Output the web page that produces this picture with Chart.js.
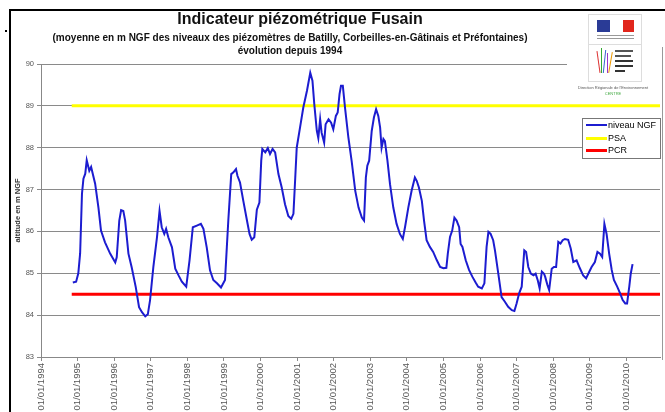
<!DOCTYPE html>
<html>
<head>
<meta charset="utf-8">
<script src="https://cdn.jsdelivr.net/npm/chart.js@4.4.1/dist/chart.umd.min.js"></script>
<style>
  body { margin: 0; background: #fff; font-family: "Liberation Sans", Arial, sans-serif; }
  #wrap { position: relative; width: 665px; height: 412px; overflow: hidden; }
  #wrap canvas { position: absolute; left: 0; top: 0; }
  .abs { position: absolute; }
  .frame-top { left: 9px; top: 9px; width: 656px; height: 2px; background: #000; }
  .frame-left { left: 9px; top: 9px; width: 2px; height: 403px; background: #000; }
  .title { left: 25px; width: 530px; text-align: center; font-weight: bold; color: #111; white-space: nowrap; }
  .legend { left: 582px; top: 118px; width: 77px; height: 39px; border: 1px solid #777; background: #fff; font-size: 9px; }
  .legend div { position: relative; height: 12.5px; line-height: 12.5px; padding-left: 25px; }
  .legend span { position: absolute; left: 3px; top: 5px; width: 21px; }
  .logo-cover { left: 567px; top: 12px; width: 95px; height: 88px; background: #fff; }
  .logo { left: 588px; top: 14px; width: 52px; height: 66px; border: 1px solid #ddd; background: #fff; }
</style>
</head>
<body>
<div id="wrap">
  <canvas id="chart"></canvas>
  <div class="abs frame-top"></div>
  <div class="abs frame-left"></div>
  <div class="abs" style="left:5px;top:30px;width:2px;height:2px;background:#000;"></div>
  <div class="abs title" style="top:10px;left:35px;font-size:16px;">Indicateur piézométrique Fusain</div>
  <div class="abs title" style="top:32px;font-size:10px;">(moyenne en m NGF des niveaux des piézomètres de Batilly, Corbeilles-en-Gâtinais et Préfontaines)</div>
  <div class="abs title" style="top:45px;font-size:10px;">évolution depuis 1994</div>
  <div class="abs logo-cover"></div>
  <div class="abs logo">
    <div class="abs" style="left:8px;top:5px;width:13px;height:12px;background:#2a3b96;"></div>
    <div class="abs" style="left:21px;top:5px;width:13px;height:12px;background:#fff;"></div>
    <div class="abs" style="left:34px;top:5px;width:11px;height:12px;background:#e1261c;"></div>
    <div class="abs" style="left:8px;top:20px;width:37px;height:1px;background:#999;"></div>
    <div class="abs" style="left:8px;top:23px;width:37px;height:1px;background:#999;"></div>
    <div class="abs" style="left:0;top:29px;width:52px;height:1px;background:#ddd;"></div>
    <div class="abs" style="left:9px;top:36px;width:1px;height:22px;background:#d33;transform:rotate(-8deg);"></div>
    <div class="abs" style="left:12px;top:33px;width:1px;height:25px;background:#3a3;"></div>
    <div class="abs" style="left:15px;top:35px;width:1px;height:23px;background:#36c;transform:rotate(6deg);"></div>
    <div class="abs" style="left:18px;top:38px;width:1px;height:20px;background:#93c;"></div>
    <div class="abs" style="left:21px;top:37px;width:1px;height:21px;background:#e90;transform:rotate(10deg);"></div>
    <div class="abs" style="left:26px;top:35px;width:18px;height:2px;background:#555;"></div>
    <div class="abs" style="left:26px;top:40px;width:16px;height:2px;background:#555;"></div>
    <div class="abs" style="left:26px;top:45px;width:18px;height:2px;background:#333;"></div>
    <div class="abs" style="left:26px;top:50px;width:18px;height:2px;background:#333;"></div>
    <div class="abs" style="left:26px;top:55px;width:10px;height:2px;background:#333;"></div>
  </div>
  <div class="abs" style="left:566px;top:85px;width:94px;text-align:center;font-size:4px;color:#555;">Direction Régionale de l'Environnement</div>
  <div class="abs" style="left:566px;top:91px;width:94px;text-align:center;font-size:4px;color:#4a4;">CENTRE</div>
  <div class="abs" style="left:662px;top:47px;width:1px;height:313px;background:#999;"></div>
  <div class="abs legend">
    <div><span style="height:2px;background:#1c1cd0;"></span>niveau NGF</div>
    <div><span style="height:3px;background:#ffff00;"></span>PSA</div>
    <div><span style="height:3px;background:#ff0000;"></span>PCR</div>
  </div>
</div>
<script>
// Niveau moyen (m NGF), en années décimales
const dates = [
  1994.87, 1994.96, 1995.02, 1995.07, 1995.12, 1995.16, 1995.21, 1995.25, 1995.32, 1995.37,
  1995.48, 1995.57, 1995.64, 1995.75, 1995.89, 1996.03, 1996.07, 1996.14, 1996.19, 1996.25,
  1996.30, 1996.39, 1996.48, 1996.59, 1996.68, 1996.76, 1996.85, 1996.92, 1996.98, 1997.07,
  1997.17, 1997.24, 1997.30, 1997.37, 1997.42, 1997.48, 1997.58, 1997.67, 1997.76, 1997.85,
  1997.97, 1998.06, 1998.15, 1998.26, 1998.37, 1998.44, 1998.53, 1998.62, 1998.71, 1998.81,
  1998.92, 1999.03, 1999.08, 1999.12, 1999.20, 1999.26, 1999.33, 1999.37, 1999.44, 1999.53,
  1999.63, 1999.70, 1999.76, 1999.83, 1999.90, 1999.97, 2000.02, 2000.05, 2000.13, 2000.20,
  2000.26, 2000.33, 2000.40, 2000.49, 2000.58, 2000.67, 2000.76, 2000.84, 2000.90, 2000.95,
  2000.99, 2001.08, 2001.17, 2001.27, 2001.36, 2001.42, 2001.47, 2001.54, 2001.58, 2001.63,
  2001.67, 2001.74, 2001.78, 2001.86, 2001.93, 2001.99, 2002.06, 2002.11, 2002.16, 2002.20,
  2002.25, 2002.31, 2002.40, 2002.49, 2002.59, 2002.68, 2002.77, 2002.83, 2002.88, 2002.92,
  2002.97, 2003.04, 2003.10, 2003.16, 2003.22, 2003.27, 2003.31, 2003.36, 2003.40, 2003.47,
  2003.54, 2003.63, 2003.72, 2003.81, 2003.89, 2003.95, 2004.04, 2004.13, 2004.22, 2004.27,
  2004.33, 2004.41, 2004.47, 2004.54, 2004.63, 2004.72, 2004.82, 2004.91, 2005.00, 2005.08,
  2005.12, 2005.18, 2005.24, 2005.30, 2005.36, 2005.43, 2005.47, 2005.52, 2005.61, 2005.70,
  2005.79, 2005.88, 2005.95, 2006.05, 2006.12, 2006.18, 2006.23, 2006.29, 2006.36, 2006.41,
  2006.50, 2006.59, 2006.68, 2006.77, 2006.87, 2006.94, 2007.00, 2007.07, 2007.14, 2007.21,
  2007.26, 2007.32, 2007.39, 2007.46, 2007.52, 2007.58, 2007.63, 2007.69, 2007.75, 2007.78,
  2007.84, 2007.89, 2007.96, 2008.02, 2008.08, 2008.14, 2008.20, 2008.26, 2008.32, 2008.41,
  2008.48, 2008.55, 2008.64, 2008.73, 2008.82, 2008.90, 2008.96, 2009.05, 2009.14, 2009.21,
  2009.28, 2009.34, 2009.40, 2009.46, 2009.53, 2009.60, 2009.66, 2009.75, 2009.83, 2009.90,
  2009.97, 2010.02, 2010.08, 2010.12, 2010.17,
];
const niveau = [
  84.78, 84.80, 85.00, 85.48, 86.90, 87.26, 87.38, 87.70, 87.45, 87.54,
  87.14, 86.57, 86.02, 85.74, 85.47, 85.26, 85.38, 86.26, 86.51, 86.49,
  86.26, 85.47, 85.14, 84.67, 84.19, 84.07, 83.97, 84.02, 84.35, 85.14,
  85.86, 86.49, 86.10, 85.94, 86.06, 85.86, 85.62, 85.11, 84.95, 84.80,
  84.68, 85.31, 86.10, 86.14, 86.18, 86.06, 85.62, 85.07, 84.84, 84.76,
  84.66, 84.84, 85.63, 86.26, 87.37, 87.41, 87.49, 87.33, 87.17, 86.73,
  86.26, 85.94, 85.80, 85.86, 86.52, 86.69, 87.69, 87.97, 87.89, 87.99,
  87.85, 87.97, 87.89, 87.37, 87.05, 86.65, 86.37, 86.30, 86.42, 87.29,
  88.00, 88.48, 88.96, 89.36, 89.79, 89.60, 89.04, 88.40, 88.23, 88.68,
  88.36, 88.12, 88.56, 88.68, 88.60, 88.44, 88.76, 88.84, 89.28, 89.48,
  89.48, 88.96, 88.26, 87.69, 86.97, 86.57, 86.33, 86.26, 87.29, 87.57,
  87.69, 88.40, 88.72, 88.92, 88.76, 88.48, 88.00, 88.21, 88.16, 87.69,
  87.13, 86.57, 86.18, 85.94, 85.82, 86.10, 86.57, 86.97, 87.29, 87.21,
  87.05, 86.73, 86.26, 85.79, 85.63, 85.51, 85.31, 85.15, 85.12, 85.13,
  85.47, 85.87, 86.02, 86.33, 86.26, 86.10, 85.70, 85.63, 85.31, 85.08,
  84.92, 84.78, 84.68, 84.64, 84.76, 85.63, 85.99, 85.94, 85.79, 85.54,
  84.99, 84.43, 84.32, 84.20, 84.12, 84.10, 84.28, 84.52, 84.68, 85.55,
  85.51, 85.15, 84.99, 84.95, 84.99, 84.83, 84.64, 85.04, 84.99, 84.92,
  84.73, 84.60, 85.11, 85.15, 85.15, 85.75, 85.71, 85.79, 85.82, 85.80,
  85.59, 85.27, 85.31, 85.12, 84.95, 84.88, 84.99, 85.15, 85.27, 85.51,
  85.47, 85.39, 86.18, 85.94, 85.47, 85.08, 84.84, 84.68, 84.52, 84.36,
  84.28, 84.28, 84.68, 84.99, 85.22,
];

// Seuils
const psa = 89;
const pcr = 84.5;
const seuilDates = [1994.84, 2010.92];

const xMin = 1994;
const xMax = 2010.92;
const yMin = 83;
const yMax = 90;

const ctx = document.getElementById('chart');
new Chart(ctx, {
  type: 'line',
  data: {
    datasets: [
      {
        label: 'niveau NGF',
        data: dates.map((d, i) => ({ x: d, y: niveau[i] })),
        borderColor: '#1c1cd0',
        borderWidth: 2,
        pointRadius: 0,
        tension: 0,
      },
      {
        label: 'PSA',
        data: seuilDates.map((d) => ({ x: d, y: psa })),
        borderColor: '#ffff00',
        borderWidth: 3,
        pointRadius: 0,
      },
      {
        label: 'PCR',
        data: seuilDates.map((d) => ({ x: d, y: pcr })),
        borderColor: '#ff0000',
        borderWidth: 3,
        pointRadius: 0,
      },
    ],
  },
  options: {
    responsive: true,
    maintainAspectRatio: false,
    animation: false,
    layout: { padding: { top: 64, right: 5, left: 0, bottom: 0 } },
    plugins: { legend: { display: false }, tooltip: { enabled: false } },
    scales: {
      x: {
        type: 'linear',
        min: xMin,
        max: xMax,
        grid: { drawOnChartArea: false, drawTicks: true, tickLength: 4, color: '#888' },
        border: { color: '#888' },
        ticks: {
          stepSize: 1,
          includeBounds: false,
          autoSkip: false,
          minRotation: 90,
          maxRotation: 90,
          padding: 2,
          color: '#555',
          font: { size: 9.5, family: 'Liberation Sans' },
          callback: (v) => '01/01/' + v,
        },
        afterFit: (scale) => { scale.height = 55; },
      },
      y: {
        min: yMin,
        max: yMax,
        grid: { color: '#8a8a8a', tickLength: 4 },
        border: { color: '#888' },
        ticks: {
          stepSize: 1,
          padding: 3,
          color: '#555',
          font: { size: 7.5, family: 'Liberation Sans' },
        },
        title: {
          display: true,
          text: 'altitude en m NGF',
          color: '#333',
          padding: { top: 13, bottom: 0 },
          font: { size: 7.5, weight: 'bold', family: 'Liberation Sans' },
        },
        afterFit: (scale) => { scale.width = 41; },
      },
    },
  },
});
</script>
</body>
</html>
